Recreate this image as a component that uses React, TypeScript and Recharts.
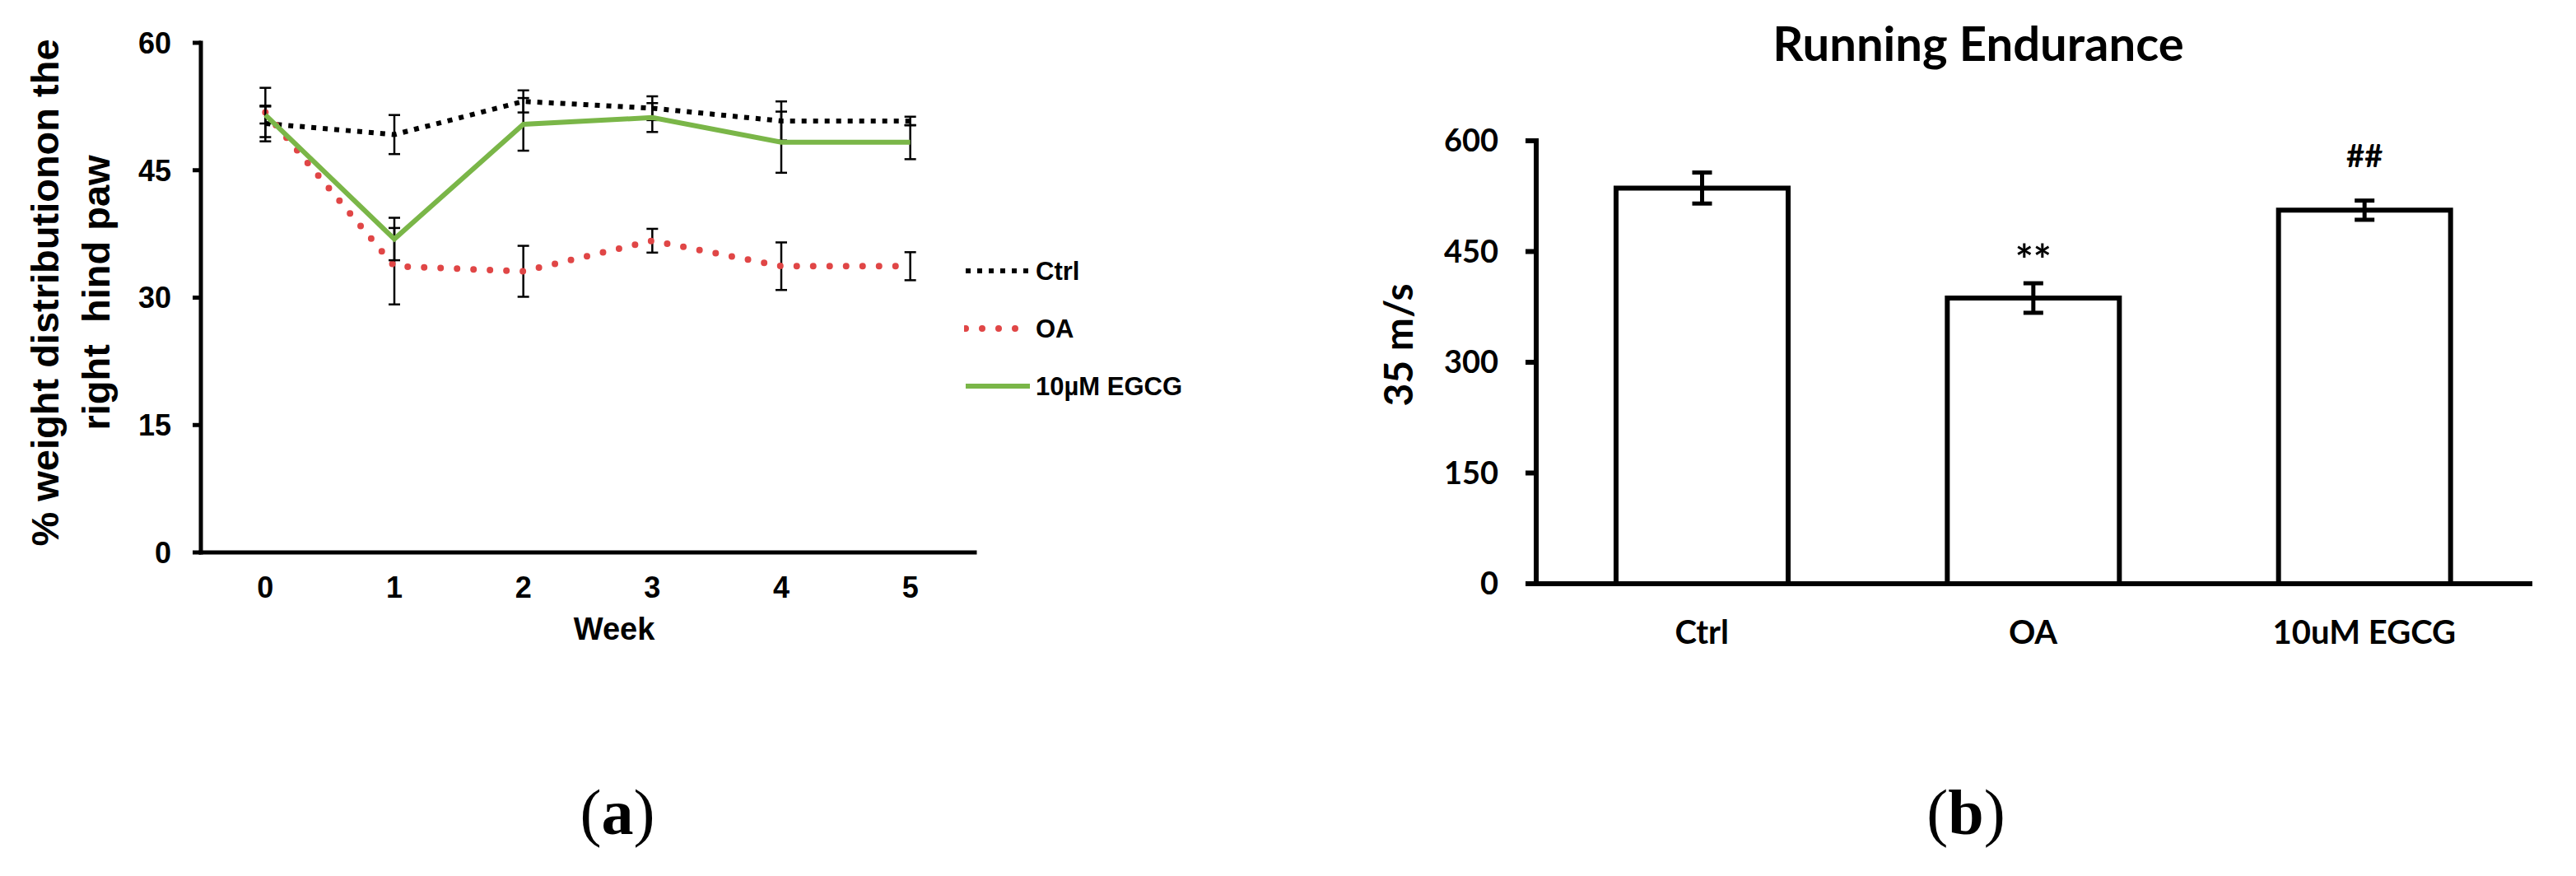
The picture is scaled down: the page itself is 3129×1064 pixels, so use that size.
import React from 'react';
import {
  LineChart,
  Line,
  XAxis,
  YAxis,
  ErrorBar,
  Legend,
  BarChart,
  Bar,
  LabelList,
  Label,
} from 'recharts';

// ---------- Panel (a): weight distribution ----------
const weeks = [0, 1, 2, 3, 4, 5];
const ctrlWeight = [50.5, 49.2, 53.1, 52.3, 50.8, 50.8];
const ctrlWeightErr = [2.1, 2.3, 1.3, 1.4, 2.3, 0.5];
const oaWeight = [51.8, 33.7, 33.1, 36.7, 33.7, 33.7];
const oaWeightErr = [2.9, 4.5, 3.0, 1.4, 2.8, 1.65];
const egcgWeight = [51.5, 36.9, 50.4, 51.2, 48.3, 48.3];
const egcgWeightErr = [1.0, 2.5, 3.1, 1.7, 3.6, 2.0];
const weekTicks = [0, 1, 2, 3, 4, 5];
const weekEdgeTicks = [-0.5, 0.5, 1.5, 2.5, 3.5, 4.5, 5.5];
const weightTicks = [0, 15, 30, 45, 60];
const seriesNames = ['Ctrl', 'OA', '10\u00B5M EGCG'];

// ---------- Panel (b): running endurance ----------
const groups = ['Ctrl', 'OA', '10uM EGCG'];
const endurance = [536, 387, 506];
const enduranceErr = [21, 20, 13];
const sigMarks = ['', '**', '##'];
const enduranceTicks = [0, 150, 300, 450, 600];
const groupEdgeTicks = [0, 1, 2, 3];

const lineData = weeks.map((w, i) => ({
  week: w,
  ctrl: ctrlWeight[i],
  ctrlErr: ctrlWeightErr[i],
  oa: oaWeight[i],
  oaErr: oaWeightErr[i],
  egcg: egcgWeight[i],
  egcgErr: egcgWeightErr[i],
}));

const barData = groups.map((g, i) => ({
  group: g,
  endurance: endurance[i],
  err: enduranceErr[i],
  mark: sigMarks[i],
}));

const ARIAL = 'Liberation Sans, Arial, sans-serif';
const CALIBRI = 'Lato, Open Sans, sans-serif';
const GREEN = '#7ab648';
const RED = '#e04646';

const seriesStyle: Record<string, any> = {
  ctrl: { stroke: '#000', strokeWidth: 6, strokeDasharray: '6 8', strokeLinecap: 'butt' },
  oa: { stroke: RED, strokeWidth: 8, strokeDasharray: '0 20', strokeLinecap: 'round' },
  egcg: { stroke: GREEN, strokeWidth: 6, strokeLinecap: 'butt' },
};

const YLabelA = (props: any) => {
  const vb = props.viewBox || { x: 0, y: 52, width: 244, height: 619 };
  const cy = vb.y + vb.height / 2 - 6;
  const x1 = vb.x + 71;
  const x2 = vb.x + 133;
  const style = { fontFamily: ARIAL, fontWeight: 700, fontSize: 47, fill: '#000' } as any;
  return (
    <g>
      <text x={x1} y={cy} textAnchor="middle" transform={`rotate(-90, ${x1}, ${cy})`} style={style}>
        % weight distributionon the
      </text>
      <text x={x2} y={cy} textAnchor="middle" transform={`rotate(-90, ${x2}, ${cy})`} style={style} xmlSpace="preserve">
        right  hind paw
      </text>
    </g>
  );
};

const WeekLabel = (props: any) => {
  const vb = props.viewBox || { x: 244, y: 671, width: 940, height: 0 };
  return (
    <text
      x={vb.x + vb.width / 2 + 32}
      y={vb.y + 105}
      textAnchor="middle"
      style={{ fontFamily: ARIAL, fontWeight: 700, fontSize: 38, fill: '#000' }}
    >
      Week
    </text>
  );
};

const LegendA = (props: any) => {
  const payload = props.payload || [];
  const keys = ['ctrl', 'oa', 'egcg'];
  const items = keys.map((k, i) => {
    const found = payload.find((p: any) => p.dataKey === k);
    return { key: k, label: found ? found.value : seriesNames[i] };
  });
  return (
    <div>
      {items.map((it) => {
        const s = seriesStyle[it.key];
        return (
          <div key={it.key} style={{ display: 'flex', alignItems: 'center', height: 70 }}>
            <svg width={84} height={20} style={{ display: 'block' }}>
              <line x1={2} y1={10} x2={80} y2={10} {...s} />
            </svg>
            <span
              style={{
                fontFamily: ARIAL,
                fontWeight: 700,
                fontSize: 31,
                color: '#000',
                marginLeft: 3,
                whiteSpace: 'pre',
                lineHeight: '31px',
              }}
            >
              {it.label}
            </span>
          </div>
        );
      })}
    </div>
  );
};

const YLabelB = (props: any) => {
  const vb = props.viewBox || { x: 0, y: 171, width: 366, height: 538 };
  const cx = vb.x + 216;
  const cy = 419;
  return (
    <text
      x={cx}
      y={cy}
      textAnchor="middle"
      transform={`rotate(-90, ${cx}, ${cy})`}
      style={{ fontFamily: CALIBRI, fontWeight: 700, fontSize: 48, fill: '#000' }}
    >
      35 m/s
    </text>
  );
};

const markOffsets = [0, 27, 52];
const markSizes = [38, 52, 38];

const SigMark = (props: any) => {
  const { x, y, width, value, index } = props;
  if (!value) return null;
  return (
    <text
      x={Number(x) + Number(width) / 2}
      y={Number(y) - markOffsets[index]}
      textAnchor="middle"
      style={{ fontFamily: CALIBRI, fontWeight: 700, fontSize: markSizes[index], fill: '#000' }}
    >
      {value}
    </text>
  );
};

const axisLineA = { stroke: '#000', strokeWidth: 5, strokeLinecap: 'square' } as any;
const tickLineA = { stroke: '#000', strokeWidth: 5 } as any;
const axisLineB = { stroke: '#000', strokeWidth: 6, strokeLinecap: 'square' } as any;
const tickLineB = { stroke: '#000', strokeWidth: 6 } as any;

export default function App() {
  return (
    <div
      style={{
        position: 'absolute',
        left: 0,
        top: 0,
        width: 3129,
        height: 1064,
        background: '#fff',
        overflow: 'hidden',
      }}
    >
      <div style={{ position: 'absolute', left: 0, top: 0 }}>
        <LineChart
          width={1500}
          height={820}
          data={lineData}
          margin={{ top: 52, right: 316, bottom: 147, left: 0 }}
        >
          <XAxis
            xAxisId="edge"
            type="number"
            dataKey="week"
            domain={[-0.5, 5.5]}
            allowDataOverflow
            ticks={weekEdgeTicks}
            interval={0}
            tick={false}
            tickSize={10}
            height={1}
            axisLine={axisLineA}
            tickLine={tickLineA}
          />
          <XAxis
            xAxisId="wk"
            type="number"
            dataKey="week"
            domain={[-0.5, 5.5]}
            allowDataOverflow
            ticks={weekTicks}
            interval={0}
            axisLine={false}
            tickLine={false}
            tickSize={0}
            tickMargin={28}
            height={1}
            tick={{ fontFamily: ARIAL, fontWeight: 700, fontSize: 36, fill: '#000' }}
          >
            <Label content={WeekLabel} />
          </XAxis>
          <YAxis
            type="number"
            domain={[0, 60]}
            allowDataOverflow
            ticks={weightTicks}
            interval={0}
            width={244}
            tickSize={10}
            tickMargin={26}
            axisLine={axisLineA}
            tickLine={tickLineA}
            tick={{ fontFamily: ARIAL, fontWeight: 700, fontSize: 36, fill: '#000' }}
          >
            <Label content={YLabelA} />
          </YAxis>
          <Line
            xAxisId="wk"
            type="linear"
            dataKey="ctrl"
            name={seriesNames[0]}
            dot={false}
            activeDot={false}
            isAnimationActive={false}
            {...seriesStyle.ctrl}
          >
            <ErrorBar dataKey="ctrlErr" width={7} strokeWidth={2.5} stroke="#000" direction="y" />
          </Line>
          <Line
            xAxisId="wk"
            type="linear"
            dataKey="oa"
            name={seriesNames[1]}
            dot={false}
            activeDot={false}
            isAnimationActive={false}
            {...seriesStyle.oa}
          >
            <ErrorBar dataKey="oaErr" width={7} strokeWidth={2.5} stroke="#000" direction="y" />
          </Line>
          <Line
            xAxisId="wk"
            type="linear"
            dataKey="egcg"
            name={seriesNames[2]}
            dot={false}
            activeDot={false}
            isAnimationActive={false}
            {...seriesStyle.egcg}
          >
            <ErrorBar dataKey="egcgErr" width={7} strokeWidth={2.5} stroke="#000" direction="y" />
          </Line>
          <Legend
            layout="horizontal"
            verticalAlign="middle"
            align="center"
            content={LegendA}
            wrapperStyle={{ position: 'absolute', left: 1171, top: 294, width: 320 }}
          />
        </LineChart>
      </div>

      <div style={{ position: 'absolute', left: 1500, top: 0 }}>
        <BarChart
          width={1629}
          height={820}
          data={barData}
          margin={{ top: 171, right: 56, bottom: 109, left: 0 }}
        >
          <XAxis
            xAxisId="edge"
            type="number"
            domain={[0, 3]}
            allowDataOverflow
            ticks={groupEdgeTicks}
            interval={0}
            tick={false}
            tickSize={10}
            height={1}
            axisLine={axisLineB}
            tickLine={tickLineB}
          />
          <XAxis
            xAxisId="grp"
            dataKey="group"
            interval={0}
            axisLine={false}
            tickLine={false}
            tickSize={0}
            tickMargin={44}
            height={1}
            tick={{ fontFamily: CALIBRI, fontWeight: 700, fontSize: 40, fill: '#000' }}
          />
          <YAxis
            type="number"
            domain={[0, 600]}
            allowDataOverflow
            ticks={enduranceTicks}
            interval={0}
            width={366}
            tickSize={13}
            tickMargin={33}
            axisLine={axisLineB}
            tickLine={tickLineB}
            tick={{ fontFamily: CALIBRI, fontWeight: 700, fontSize: 38, fill: '#000' }}
          >
            <Label content={YLabelB} />
          </YAxis>
          <Bar
            xAxisId="grp"
            dataKey="endurance"
            fill="#fff"
            stroke="#000"
            strokeWidth={6}
            barSize={209}
            isAnimationActive={false}
          >
            <ErrorBar dataKey="err" width={12} strokeWidth={5} stroke="#000" direction="y" />
            <LabelList dataKey="mark" content={SigMark} />
          </Bar>
        </BarChart>
      </div>

      <svg
        width={3129}
        height={1064}
        style={{ position: 'absolute', left: 0, top: 0, pointerEvents: 'none' }}
      >
        <text
          x={2403}
          y={74}
          textAnchor="middle"
          style={{ fontFamily: CALIBRI, fontWeight: 700, fontSize: 58, fill: '#000' }}
        >
          Running Endurance
        </text>
        <text x={750} y={1013} textAnchor="middle" style={{ fontFamily: 'Liberation Serif, serif', fontSize: 78, fill: '#000' }}>
          (<tspan fontWeight={700}>a</tspan>)
        </text>
        <text x={2388} y={1013} textAnchor="middle" style={{ fontFamily: 'Liberation Serif, serif', fontSize: 78, fill: '#000' }}>
          (<tspan fontWeight={700}>b</tspan>)
        </text>
      </svg>
    </div>
  );
}
